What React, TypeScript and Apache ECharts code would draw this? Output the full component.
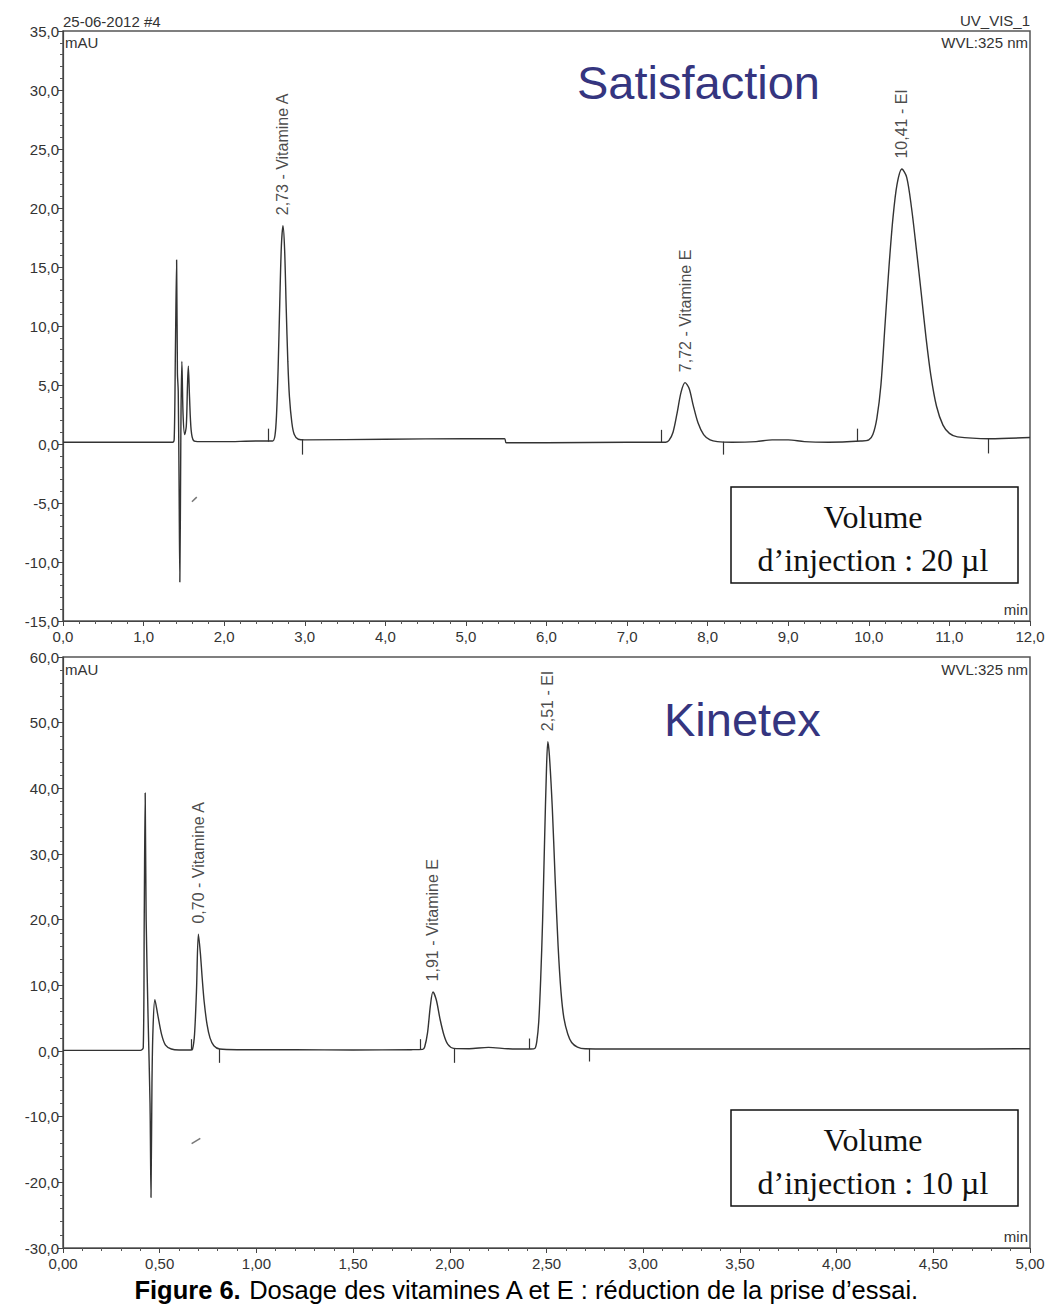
import React, { useEffect, useRef } from "react";
import * as echarts from "echarts";

// ---------- DATA ----------
// Top chromatogram (Satisfaction column), time in min, signal in mAU
const satisfactionTrace: [number, number][] = [
  [0.0, 0.15], [0.5, 0.15], [1.0, 0.15], [1.36, 0.15],
  [1.38, 0.4], [1.395, 8], [1.41, 15.6], [1.42, 6], [1.43, 4.5], [1.44, -3], [1.45, -11.7], [1.46, -2],
  [1.465, 3], [1.475, 7.0], [1.49, 2.5], [1.51, 0.8], [1.53, 1.5], [1.545, 5], [1.555, 6.6], [1.57, 4],
  [1.59, 1.2], [1.62, 0.3], [1.7, 0.2], [2.0, 0.2], [2.4, 0.25],
  [2.6, 0.25], [2.63, 0.7], [2.65, 2.5], [2.67, 6.5], [2.69, 12], [2.71, 16.8], [2.73, 18.5], [2.75, 16.5],
  [2.77, 11.5], [2.79, 7], [2.81, 4], [2.84, 1.8], [2.87, 0.8], [2.92, 0.4], [3.0, 0.35],
  [4.0, 0.4], [5.0, 0.45], [5.48, 0.45], [5.5, 0.1], [6.0, 0.1], [7.0, 0.15], [7.48, 0.15],
  [7.52, 0.3], [7.57, 1.0], [7.62, 2.6], [7.67, 4.4], [7.72, 5.2], [7.77, 4.7], [7.82, 3.3], [7.88, 1.8],
  [7.95, 0.8], [8.03, 0.35], [8.12, 0.2], [8.3, 0.15],
  [8.6, 0.2], [8.8, 0.35], [9.0, 0.35], [9.2, 0.2], [9.5, 0.15], [9.9, 0.25],
  [10.0, 0.35], [10.05, 0.8], [10.1, 2.2], [10.15, 5], [10.2, 10], [10.25, 15], [10.3, 19.2], [10.35, 22],
  [10.41, 23.3], [10.47, 22.6], [10.53, 20], [10.59, 16.5], [10.65, 12.8], [10.71, 9], [10.77, 5.8],
  [10.84, 3.2], [10.92, 1.6], [11.0, 0.9], [11.1, 0.6], [11.5, 0.45], [12.0, 0.55],
];

// Bottom chromatogram (Kinetex column)
const kinetexTrace: [number, number][] = [
  [0.0, 0.1], [0.2, 0.1], [0.4, 0.1], [0.415, 0.5], [0.42, 20], [0.425, 39.3], [0.43, 20], [0.44, 5],
  [0.45, -8], [0.455, -22.3], [0.46, -5], [0.465, 3], [0.475, 7.8], [0.49, 5.5], [0.51, 2.5], [0.53, 0.9],
  [0.56, 0.3], [0.6, 0.15], [0.66, 0.15],
  [0.67, 0.3], [0.68, 2.5], [0.69, 9], [0.7, 17.8], [0.71, 15], [0.72, 11], [0.73, 7.5], [0.745, 4],
  [0.76, 2], [0.78, 0.8], [0.81, 0.3], [0.9, 0.2],
  [1.2, 0.2], [1.5, 0.15], [1.8, 0.2], [1.86, 0.25],
  [1.87, 0.6], [1.885, 2.8], [1.9, 7], [1.913, 9.0], [1.93, 7.8], [1.95, 4.8], [1.97, 2.4], [1.99, 1.0],
  [2.02, 0.4], [2.1, 0.35], [2.2, 0.55], [2.3, 0.35], [2.42, 0.3],
  [2.44, 0.4], [2.45, 1.5], [2.46, 4.5], [2.47, 11], [2.48, 20], [2.49, 32], [2.5, 43], [2.507, 47.1],
  [2.515, 45], [2.53, 37], [2.545, 26], [2.56, 16], [2.575, 9], [2.59, 5], [2.61, 2.6], [2.63, 1.3],
  [2.66, 0.6], [2.7, 0.35], [3.0, 0.3], [3.5, 0.3], [4.0, 0.3], [4.5, 0.3], [5.0, 0.35],
];

// Peak annotations
const satPeakTimes = [2.73, 7.72, 10.41];
const satPeakHeights = [18.5, 5.2, 23.3];
const satPeakNames = ["2,73 - Vitamine A", "7,72 - Vitamine E", "10,41 - EI"];

const kinPeakTimes = [0.7, 1.913, 2.507];
const kinPeakHeights = [17.8, 9.0, 47.1];
const kinPeakNames = ["0,70 - Vitamine A", "1,91 - Vitamine E", "2,51 - EI"];

// Integration marks: [time, from, to]
const satIntegrationMarks: [number, number, number][] = [
  [2.55, 0.2, 1.3], [2.97, 0.4, -0.9], [7.43, 0.15, 1.2], [8.19, 0.2, -0.9], [9.86, 0.25, 1.3], [11.48, 0.45, -0.8],
];
const kinIntegrationMarks: [number, number, number][] = [
  [0.665, 0.15, 1.8], [0.81, 0.3, -1.8], [1.846, 0.2, 1.8], [2.025, 0.4, -1.8], [2.41, 0.3, 1.9], [2.72, 0.35, -1.6],
];
// Small stray strokes on the records: [t1, y1, t2, y2]
const satArtefacts: [number, number, number, number][] = [[1.6, -4.9, 1.66, -4.5]];
const kinArtefacts: [number, number, number, number][] = [[0.665, -14.1, 0.71, -13.3]];

// Axes
const satX = { min: 0, max: 12, interval: 1, decimals: 1 };
const satY = { min: -15, max: 35, interval: 5, decimals: 1 };
const kinX = { min: 0, max: 5, interval: 0.5, decimals: 2 };
const kinY = { min: -30, max: 60, interval: 10, decimals: 1 };

const headerDate = "25-06-2012 #4";
const channel = "UV_VIS_1";
const wavelength = "WVL:325 nm";
const unitY = "mAU";
const unitX = "min";
const titleTop = "Satisfaction";
const titleBottom = "Kinetex";
const volumeTop = ["Volume", "d\u2019injection : 20 \u00b5l"];
const volumeBottom = ["Volume", "d\u2019injection : 10 \u00b5l"];
const captionBold = "Figure 6.";
const captionRest = " Dosage des vitamines A et E : r\u00e9duction de la prise d\u2019essai.";

// ---------- COMPONENT ----------
const SANS = "'Liberation Sans', Arial, Helvetica, sans-serif";
const SERIF = "'Liberation Serif', 'Times New Roman', serif";
const LINE = "#333";

const fmt = (d: number) => (v: number) => v.toFixed(d).replace(".", ",");

function xAxis(gridIndex: number, a: any) {
  return {
    type: "value", gridIndex, min: a.min, max: a.max, interval: a.interval,
    axisLine: { show: true, onZero: false, lineStyle: { color: "#444", width: 1.2 } },
    axisTick: { show: true, length: 5, lineStyle: { color: "#444" } },
    minorTick: { show: true, splitNumber: 5, length: 3, lineStyle: { color: "#555" } },
    splitLine: { show: false },
    axisLabel: { formatter: fmt(a.decimals), fontSize: 15, color: "#333", fontFamily: SANS, margin: 8 },
  };
}
function yAxis(gridIndex: number, a: any) {
  return {
    type: "value", gridIndex, min: a.min, max: a.max, interval: a.interval,
    axisLine: { show: true, lineStyle: { color: "#444", width: 1.2 } },
    axisTick: { show: true, length: 5, lineStyle: { color: "#444" } },
    minorTick: { show: true, splitNumber: 5, length: 3, lineStyle: { color: "#555" } },
    splitLine: { show: false },
    axisLabel: { formatter: fmt(a.decimals), fontSize: 15, color: "#333", fontFamily: SANS, margin: 4 },
  };
}

function traceSeries(idx: number, data: [number, number][], marks: [number, number, number][], arts: [number, number, number, number][]) {
  return {
    type: "line", xAxisIndex: idx, yAxisIndex: idx, data, showSymbol: false, symbol: "none",
    smooth: 0.3, lineStyle: { color: LINE, width: 1.4 }, silent: true,
    markLine: {
      silent: true, symbol: ["none", "none"], label: { show: false },
      lineStyle: { color: LINE, width: 1.2, type: "solid" },
      data: [
        ...marks.map(([t, a, b]) => [{ coord: [t, a] }, { coord: [t, b] }]),
        ...arts.map(([t1, y1, t2, y2]) => [
          { coord: [t1, y1], lineStyle: { color: "#777", width: 1.5 } },
          { coord: [t2, y2] },
        ]),
      ],
    },
  };
}

function labelSeries(idx: number, times: number[], heights: number[], names: string[]) {
  return {
    type: "scatter", xAxisIndex: idx, yAxisIndex: idx, symbolSize: 1, silent: true,
    itemStyle: { color: "rgba(0,0,0,0)" },
    data: times.map((t, i) => ({ value: [t, heights[i]], name: names[i] })),
    label: {
      show: true, position: "top", distance: 10, rotate: 90, align: "left", verticalAlign: "middle",
      formatter: "{b}", fontSize: 16, color: "#1a1a1a", fontFamily: SANS,
    },
  };
}

function smallText(text: string, x: number, y: number, align: string) {
  return {
    type: "text", x, y, silent: true,
    style: { text, fontSize: 15, fontFamily: SANS, fill: "#333", align, verticalAlign: "middle" },
  };
}

function volumeBox(lines: string[], top: number) {
  return {
    type: "group", children: [
      { type: "rect", shape: { x: 731, y: top, width: 287, height: 96 }, style: { fill: "#fff", stroke: "#111", lineWidth: 1.5 } },
      { type: "text", x: 873, y: top + 30, style: { text: lines[0], fontSize: 32, fontFamily: SERIF, fill: "#111", align: "center", verticalAlign: "middle" } },
      { type: "text", x: 873, y: top + 73, style: { text: lines[1], fontSize: 32, fontFamily: SERIF, fill: "#111", align: "center", verticalAlign: "middle" } },
    ],
  };
}

export default function App() {
  const ref = useRef<HTMLDivElement>(null);
  useEffect(() => {
    if (!ref.current) return;
    const chart = echarts.init(ref.current, null, { renderer: "svg" });
    const option: any = {
      animation: false,
      backgroundColor: "#fff",
      grid: [
        { left: 63, top: 31, width: 967, height: 590, show: true, borderColor: "#555", borderWidth: 1.5, backgroundColor: "transparent" },
        { left: 63, top: 657, width: 967, height: 591, show: true, borderColor: "#555", borderWidth: 1.5, backgroundColor: "transparent" },
      ],
      xAxis: [xAxis(0, satX), xAxis(1, kinX)],
      yAxis: [yAxis(0, satY), yAxis(1, kinY)],
      series: [
        traceSeries(0, satisfactionTrace, satIntegrationMarks, satArtefacts),
        traceSeries(1, kinetexTrace, kinIntegrationMarks, kinArtefacts),
        labelSeries(0, satPeakTimes, satPeakHeights, satPeakNames),
        labelSeries(1, kinPeakTimes, kinPeakHeights, kinPeakNames),
      ],
      graphic: [
        smallText(headerDate, 63, 21, "left"),
        smallText(channel, 1030, 20, "right"),
        smallText(wavelength, 1028, 42, "right"),
        smallText(unitY, 65, 42, "left"),
        smallText(unitX, 1028, 609, "right"),
        smallText(unitY, 65, 669, "left"),
        smallText(wavelength, 1028, 669, "right"),
        smallText(unitX, 1028, 1236, "right"),
        { type: "text", x: 577, y: 82, style: { text: titleTop, fontSize: 47, fontFamily: SANS, fill: "#35357f", align: "left", verticalAlign: "middle" } },
        { type: "text", x: 664, y: 719, style: { text: titleBottom, fontSize: 47, fontFamily: SANS, fill: "#35357f", align: "left", verticalAlign: "middle" } },
        volumeBox(volumeTop, 487),
        volumeBox(volumeBottom, 1110),
        {
          type: "text", x: 527, y: 1290,
          style: {
            text: "{b|" + captionBold + "}" + captionRest,
            rich: { b: { fontWeight: "bold", fontSize: 25.5, fontFamily: SANS, fill: "#000" } },
            fontSize: 25.5, fontFamily: SANS, fill: "#000", align: "center", verticalAlign: "middle",
          },
        },
      ],
    };
    chart.setOption(option);
    return () => chart.dispose();
  }, []);
  return (
    <div
      ref={ref}
      style={{ position: "absolute", left: 0, top: 0, width: 1053, height: 1306, background: "#fff" }}
    />
  );
}
